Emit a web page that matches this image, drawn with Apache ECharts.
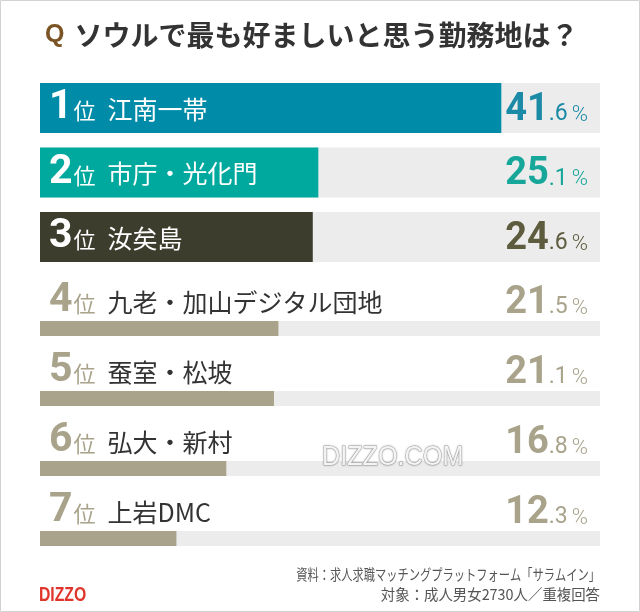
<!DOCTYPE html>
<html>
<head>
<meta charset="utf-8">
<script src="https://cdn.jsdelivr.net/npm/echarts@6/dist/echarts.min.js"></script>
<style>
html, body { margin: 0; padding: 0; background: #fff; }
#chart { width: 640px; height: 612px; }
</style>
</head>
<body>
<div id="chart"></div>
<script>
// top 3 (thick bars)
var topNames = ['江南一帯', '市庁・光化門', '汝矣島'];
var topValues = [41.6, 25.1, 24.6];
var topColors = ['#008ca8', '#00a99d', '#3d3d2e'];
var topValueColors = ['#1b8aa6', '#16a79a', '#5d5c3e'];
// 4th - 7th (thin bars)
var restNames = ['九老・加山デジタル団地', '蚕室・松坡', '弘大・新村', '上岩DMC'];
var restValues = [21.5, 21.1, 16.8, 12.3];
var restColor = '#a8a38a';

var xMax = 50.5;
var trackColor = '#ececec';
var cjk = "'Noto Sans CJK JP', sans-serif";
var digitFont = "Roboto, sans-serif";

function valueText(v) {
    var s = v.toFixed(1).split('.');
    return '{a|' + s[0] + '}{b|.' + s[1] + '}{p|%}';
}

var valueRich = {
    a: { fontSize: 38, fontWeight: 'bold', fontFamily: digitFont, verticalAlign: 'bottom', lineHeight: 42 },
    b: { fontSize: 23, fontFamily: digitFont, verticalAlign: 'bottom', lineHeight: 42, padding: [0, 0, 3, 0] },
    p: { fontSize: 22, fontFamily: digitFont, fontWeight: 300, verticalAlign: 'bottom', lineHeight: 42, padding: [0, 0, 3, 4] }
};

function rankRich(digitColor, nameColor) {
    return {
        r: { fontSize: 41, fontWeight: 'bold', fontFamily: digitFont, color: digitColor, verticalAlign: 'middle', lineHeight: 44 },
        i: { fontSize: 22, fontFamily: cjk, color: digitColor, verticalAlign: 'middle', lineHeight: 44, padding: [6, 12, 0, 1] },
        n: { fontSize: 25, fontFamily: cjk, color: nameColor, verticalAlign: 'middle', lineHeight: 44, padding: [2, 0, 0, 0] }
    };
}

var chart = echarts.init(document.getElementById('chart'));

var option = {
    animation: false,
    title: {
        text: '{q|Q}  {t|ソウルで最も好ましいと思う勤務地は？}',
        left: 40,
        top: 16,
        textStyle: {
            rich: {
                q: { fontSize: 25, fontWeight: 'bold', color: '#7a5424', fontFamily: "'Liberation Sans', sans-serif" },
                t: { fontSize: 28, fontWeight: 'bold', color: '#333', fontFamily: cjk }
            }
        }
    },
    grid: [
        { left: 40, right: 40, top: 75.75, height: 193.5 },
        { left: 40, right: 40, top: 293.5, height: 280 }
    ],
    xAxis: [
        { gridIndex: 0, type: 'value', min: 0, max: xMax, show: false },
        { gridIndex: 1, type: 'value', min: 0, max: xMax, show: false }
    ],
    yAxis: [
        { gridIndex: 0, type: 'category', inverse: true, data: topNames, show: false },
        { gridIndex: 1, type: 'category', inverse: true, data: restNames, show: false }
    ],
    series: [
        {
            type: 'bar', xAxisIndex: 0, yAxisIndex: 0, barWidth: 50, silent: true,
            data: topNames.map(function (n, i) {
                return { value: xMax, label: { color: topValueColors[i] } };
            }),
            itemStyle: { color: trackColor },
            label: {
                show: true, position: 'insideRight', distance: 12,
                formatter: function (p) { return valueText(topValues[p.dataIndex]); },
                rich: valueRich
            }
        },
        {
            type: 'bar', xAxisIndex: 0, yAxisIndex: 0, barWidth: 50, barGap: '-100%', silent: true,
            data: topValues.map(function (v, i) {
                return { value: v, itemStyle: { color: topColors[i] } };
            }),
            label: {
                show: true, position: 'insideLeft', distance: 9,
                formatter: function (p) { return '{r|' + (p.dataIndex + 1) + '}{i|位}{n|' + topNames[p.dataIndex] + '}'; },
                rich: rankRich('#fff', '#fff')
            }
        },
        {
            type: 'bar', xAxisIndex: 1, yAxisIndex: 1, barWidth: 15, silent: true,
            data: restNames.map(function () { return xMax; }),
            itemStyle: { color: trackColor },
            label: {
                show: true, position: [548, -20], align: 'right', verticalAlign: 'middle',
                color: '#a8a38a',
                formatter: function (p) { return valueText(restValues[p.dataIndex]); },
                rich: valueRich
            }
        },
        {
            type: 'bar', xAxisIndex: 1, yAxisIndex: 1, barWidth: 15, barGap: '-100%', silent: true,
            data: restValues,
            itemStyle: { color: restColor },
            label: {
                show: true, position: [9, -20], align: 'left', verticalAlign: 'middle',
                formatter: function (p) { return '{r|' + (p.dataIndex + 4) + '}{i|位}{n|' + restNames[p.dataIndex] + '}'; },
                rich: rankRich('#a8a38a', '#333')
            }
        }
    ],
    graphic: [
        { type: 'rect', silent: true, shape: { x: 0.5, y: 0.5, width: 639, height: 611 },
          style: { fill: 'none', stroke: '#d2d2d2', lineWidth: 1 } },
        { type: 'text', x: 600, y: 574, scaleX: 0.75, silent: true,
          style: { text: '資料：求人求職マッチングプラットフォーム「サラムイン」', align: 'right', verticalAlign: 'middle',
                   font: "15px 'Noto Sans CJK JP'", fill: '#555' } },
        { type: 'text', x: 600, y: 594, scaleX: 0.96, silent: true,
          style: { text: '対象：成人男女2730人／重複回答', align: 'right', verticalAlign: 'middle',
                   font: "15px 'Noto Sans CJK JP'", fill: '#555' } },
        { type: 'text', x: 39, y: 595, scaleX: 0.75, silent: true,
          style: { text: 'DIZZO', verticalAlign: 'middle', font: "bold 21px 'Liberation Sans'", fill: '#e0352b' } },
        { type: 'text', x: 322, y: 457, scaleX: 0.9, silent: true, z: 100,
          style: { text: 'DIZZO.COM', verticalAlign: 'middle', font: "28px 'Liberation Sans'", fill: '#f4f4f4',
                   stroke: '#b8b8b8', lineWidth: 1, textShadowColor: 'rgba(0,0,0,0.25)', textShadowBlur: 2 } }
    ]
};

chart.setOption(option);
</script>
</body>
</html>
